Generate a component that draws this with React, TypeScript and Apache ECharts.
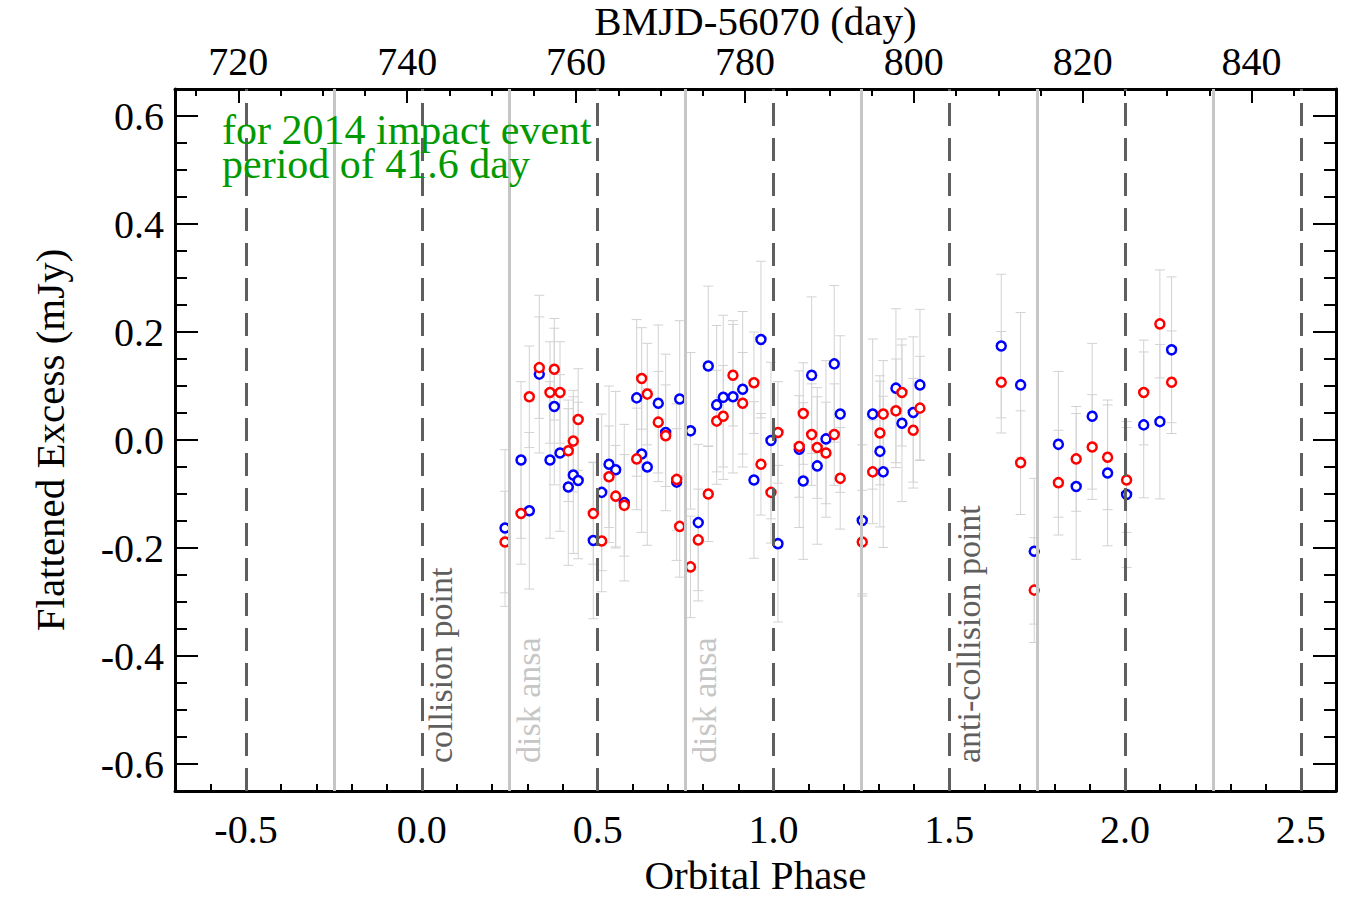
import { useEffect, useRef } from 'react';
import * as echarts from 'echarts';

// Orbital phase of each epoch (shared by both bands)
const phases = [
  0.2366, 0.2821, 0.3057, 0.3341, 0.3645, 0.3768, 0.3930, 0.4166, 0.4308, 0.4447,
  0.4877, 0.5116, 0.5323, 0.5514, 0.5758, 0.6111, 0.6253, 0.6412, 0.6725, 0.6935,
  0.7248, 0.7334, 0.7641, 0.7862, 0.8147, 0.8386, 0.8573, 0.8849, 0.9125, 0.9446,
  0.9645, 0.9930, 1.0129, 1.0734, 1.0848, 1.1087, 1.1246, 1.1494, 1.1730, 1.1900,
  1.2526, 1.2822, 1.3029, 1.3123, 1.3484, 1.3655, 1.3976, 1.4167, 1.6479, 1.7030,
  1.7417, 1.8105, 1.8611, 1.9066, 1.9504, 2.0044, 2.0531, 2.0991, 2.1324,
];

// Flattened excess, blue band (mJy)
const blueExcess = [
  -0.163, -0.037, -0.131, 0.122, -0.037, 0.062, -0.024, -0.087, -0.065, -0.075,
  -0.186, -0.097, -0.045, -0.055, -0.116, 0.078, -0.026, -0.050, 0.068, 0.014,
  -0.078, 0.076, 0.017, -0.153, 0.137, 0.065, 0.079, 0.080, 0.094, -0.074,
  0.186, -0.001, -0.192, -0.017, -0.076, 0.120, -0.048, 0.002, 0.141, 0.048,
  -0.149, 0.048, -0.021, -0.059, 0.096, 0.031, 0.051, 0.102, 0.174, 0.102,
  -0.206, -0.008, -0.086, 0.044, -0.061, -0.101, 0.028, 0.034, 0.167,
];

// Flattened excess, red band (mJy)
const redExcess = [
  -0.189, -0.136, 0.080, 0.134, 0.088, 0.131, 0.088, -0.020, -0.002, 0.038,
  -0.136, -0.187, -0.068, -0.104, -0.121, -0.035, 0.114, 0.085, 0.033, 0.008,
  -0.073, -0.160, -0.235, -0.185, -0.100, 0.035, 0.044, 0.120, 0.068, 0.106,
  -0.045, -0.097, 0.014, -0.012, 0.049, 0.010, -0.014, -0.024, 0.010, -0.071,
  -0.189, -0.059, 0.013, 0.048, 0.054, 0.088, 0.018, 0.059, 0.107, -0.042,
  -0.278, -0.079, -0.035, -0.013, -0.032, -0.074, 0.088, 0.215, 0.107,
];

// 1-sigma uncertainties (mJy)
const blueError = [
  0.145, 0.145, 0.145, 0.146, 0.145, 0.145, 0.145, 0.145, 0.145, 0.145,
  0.145, 0.145, 0.145, 0.145, 0.145, 0.145, 0.145, 0.145, 0.145, 0.145,
  0.145, 0.145, 0.145, 0.145, 0.148, 0.147, 0.152, 0.141, 0.144, 0.145,
  0.145, 0.145, 0.145, 0.145, 0.145, 0.145, 0.145, 0.145, 0.145, 0.145,
  0.140, 0.139, 0.140, 0.140, 0.147, 0.145, 0.140, 0.140, 0.133, 0.134,
  0.135, 0.135, 0.135, 0.135, 0.135, 0.135, 0.135, 0.143, 0.135,
];
const redError = [
  0.094, 0.094, 0.094, 0.094, 0.094, 0.094, 0.094, 0.094, 0.094, 0.094,
  0.094, 0.094, 0.094, 0.094, 0.094, 0.094, 0.094, 0.094, 0.094, 0.094,
  0.094, 0.094, 0.094, 0.094, 0.088, 0.094, 0.094, 0.094, 0.094, 0.094,
  0.094, 0.094, 0.094, 0.094, 0.094, 0.094, 0.094, 0.094, 0.094, 0.094,
  0.096, 0.096, 0.096, 0.099, 0.096, 0.099, 0.096, 0.096, 0.094, 0.096,
  0.097, 0.097, 0.097, 0.097, 0.097, 0.097, 0.097, 0.100, 0.095,
];

const collisionPhases = [-0.5, 0, 0.5, 1, 1.5, 2, 2.5];
const ansaPhases = [-0.25, 0.25, 0.75, 1.25, 1.75, 2.25];
const notePhases = [0, 0.25, 0.75, 1.5];
const noteTexts = ['collision point', 'disk ansa', 'disk ansa', 'anti-collision point'];
const titleLines = ['for 2014 impact event', 'period of 41.6 day'];

const phaseRange = [-0.702, 2.6];
const dayRange = [712.5, 850.0];
const excessRange = [-0.65, 0.65];

const FONT = '"Liberation Serif", "Times New Roman", serif';
const DARK = '#5f5f5f';
const LIGHT = '#c6c6c6';

export default function App() {
  const ref = useRef<HTMLDivElement>(null);

  useEffect(() => {
    if (!ref.current) return;
    document.body.style.margin = '0';
    const chart = echarts.init(ref.current, null, { renderer: 'svg' });

    const blueData = phases.map((p, i) => [p, blueExcess[i], blueError[i]]);
    const redData = phases.map((p, i) => [p, redExcess[i], redError[i]]);

    const fmtHalf = (v: number) => {
      const k = v / 0.5;
      if (Math.abs(k - Math.round(k)) > 1e-6) return '';
      return Math.abs(v) < 1e-9 ? '0.0' : v.toFixed(1);
    };
    const fmtTenth = (v: number) => {
      const k = v / 0.2;
      if (Math.abs(k - Math.round(k)) > 1e-6) return '';
      return Math.abs(v) < 1e-9 ? '0.0' : v.toFixed(1);
    };
    const fmtDay = (v: number) => {
      const k = v / 20;
      if (Math.abs(k - Math.round(k)) > 1e-6) return '';
      return String(Math.round(v));
    };

    const axisLine = { show: true, onZero: false, lineStyle: { color: '#000', width: 3 } };
    const labelStyle = { color: '#000', fontSize: 40, fontFamily: FONT };

    const errRender = (params: any, api: any) => {
      const x = api.value(0);
      const y = api.value(1);
      const e = api.value(2);
      const top = api.coord([x, y + e]);
      const bot = api.coord([x, y - e]);
      const hw = 5;
      const st = { stroke: '#d2d2d2', lineWidth: 1 };
      return {
        type: 'group',
        children: [
          { type: 'line', shape: { x1: top[0], y1: top[1], x2: bot[0], y2: bot[1] }, style: st },
          { type: 'line', shape: { x1: top[0] - hw, y1: top[1], x2: top[0] + hw, y2: top[1] }, style: st },
          { type: 'line', shape: { x1: bot[0] - hw, y1: bot[1], x2: bot[0] + hw, y2: bot[1] }, style: st },
        ],
      };
    };

    const option: any = {
      animation: false,
      backgroundColor: '#fff',
      grid: { left: 175, right: 14, top: 89, bottom: 109, containLabel: false, outerBoundsMode: 'none' },
      xAxis: [
        {
          type: 'value', position: 'bottom', min: phaseRange[0], max: phaseRange[1], splitNumber: 6,
          name: 'Orbital Phase', nameLocation: 'middle', nameGap: 63, nameMoveOverlap: false,
          nameTextStyle: { color: '#000', fontSize: 41, fontFamily: FONT },
          axisLine,
          axisTick: { show: true, inside: true, length: 14, lineStyle: { color: '#000', width: 2 } },
          minorTick: { show: true, splitNumber: 5, length: 7, lineStyle: { color: '#000', width: 2 } },
          axisLabel: { ...labelStyle, margin: 18, formatter: fmtHalf, showMinLabel: false, showMaxLabel: false },
          splitLine: { show: false },
        },
        {
          type: 'value', position: 'top', min: dayRange[0], max: dayRange[1], splitNumber: 6,
          name: 'BMJD-56070 (day)', nameLocation: 'middle', nameGap: 48, nameMoveOverlap: false,
          nameTextStyle: { color: '#000', fontSize: 41, fontFamily: FONT },
          axisLine,
          axisTick: { show: true, inside: true, length: 14, lineStyle: { color: '#000', width: 2 } },
          minorTick: { show: true, splitNumber: 4, length: 7, lineStyle: { color: '#000', width: 2 } },
          axisLabel: { ...labelStyle, margin: 8, formatter: fmtDay, showMinLabel: false, showMaxLabel: false },
          splitLine: { show: false },
        },
      ],
      yAxis: [
        {
          type: 'value', position: 'left', min: excessRange[0], max: excessRange[1], splitNumber: 6,
          name: 'Flattened Excess (mJy)', nameLocation: 'middle', nameGap: 105, nameMoveOverlap: false,
          nameTextStyle: { color: '#000', fontSize: 41, fontFamily: FONT },
          axisLine,
          axisTick: { show: true, inside: true, length: 23, lineStyle: { color: '#000', width: 2 } },
          minorTick: { show: true, splitNumber: 4, length: 12, lineStyle: { color: '#000', width: 2 } },
          axisLabel: { ...labelStyle, margin: 11, formatter: fmtTenth, showMinLabel: false, showMaxLabel: false },
          splitLine: { show: false },
        },
        {
          type: 'value', position: 'right', min: excessRange[0], max: excessRange[1], splitNumber: 6,
          axisLine,
          axisTick: { show: true, inside: true, length: 23, lineStyle: { color: '#000', width: 2 } },
          minorTick: { show: true, splitNumber: 4, length: 12, lineStyle: { color: '#000', width: 2 } },
          axisLabel: { show: false },
          splitLine: { show: false },
        },
      ],
      series: [
        {
          type: 'scatter', name: 'guides', data: [], xAxisIndex: 0, yAxisIndex: 0, z: 1, silent: true,
          markLine: {
            silent: true, symbol: 'none', animation: false,
            label: { show: false },
            data: [
              ...collisionPhases.map((p) => ({ xAxis: p, lineStyle: { color: DARK, width: 3, type: [23, 12] } })),
              ...ansaPhases.map((p) => ({ xAxis: p, lineStyle: { color: LIGHT, width: 3, type: 'solid' } })),
            ],
          },
        },
        {
          type: 'custom', name: 'blue err', renderItem: errRender, data: blueData, z: 2, silent: true,
          encode: { x: 0, y: 1 },
        },
        {
          type: 'custom', name: 'red err', renderItem: errRender, data: redData, z: 2, silent: true,
          encode: { x: 0, y: 1 },
        },
        {
          type: 'scatter', name: 'blue', data: blueData.map((d) => [d[0], d[1]]), z: 3,
          symbol: 'circle', symbolSize: 9,
          itemStyle: { color: '#fff', borderColor: '#0000ff', borderWidth: 2.5, opacity: 1 },
        },
        {
          type: 'scatter', name: 'red', data: redData.map((d) => [d[0], d[1]]), z: 3,
          symbol: 'circle', symbolSize: 9,
          itemStyle: { color: '#fff', borderColor: '#ff0000', borderWidth: 2.5, opacity: 1 },
        },
      ],
    };

    chart.setOption(option);

    const graphics: any[] = [];
    notePhases.forEach((p, i) => {
      const pt = chart.convertToPixel({ xAxisIndex: 0, yAxisIndex: 0 }, [p, -0.6]) as number[];
      const dark = Math.abs(p / 0.5 - Math.round(p / 0.5)) < 1e-6;
      graphics.push({
        type: 'text', x: pt[0] + 19, y: pt[1] - 1, rotation: Math.PI / 2, z: 10, silent: true,
        style: {
          text: noteTexts[i], fontSize: 34, fontFamily: FONT, fill: dark ? DARK : LIGHT,
          align: 'left', verticalAlign: 'middle',
        },
      });
    });
    graphics.push({
      type: 'text', x: 222, y: 113, z: 10, silent: true,
      style: {
        text: titleLines.join('\n'), fontSize: 42, lineHeight: 34, fontFamily: FONT, fill: '#009a00',
        align: 'left', verticalAlign: 'top',
      },
    });
    chart.setOption({ graphic: graphics });

    return () => chart.dispose();
  }, []);

  return <div ref={ref} style={{ position: 'absolute', left: 0, top: 0, width: 1350, height: 900 }} />;
}
